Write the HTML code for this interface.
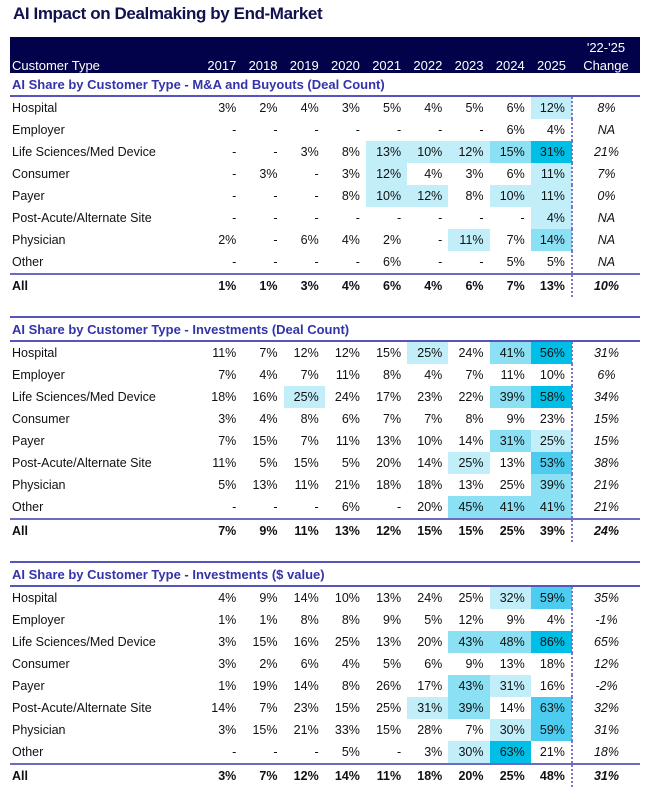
<!DOCTYPE html>
<html><head><meta charset="utf-8"><style>
body{margin:0;background:#fff;font-family:"Liberation Sans",sans-serif;}
#w{position:relative;width:649px;height:790px;}
h1{position:absolute;left:13px;top:4px;margin:0;font-size:17px;font-weight:bold;color:#12124f;letter-spacing:-0.4px}
table{position:absolute;left:10px;top:37px;border-collapse:collapse;font-size:12.5px;color:#111;table-layout:fixed;width:630px}
td{height:22px;padding:0 6px 0 0;text-align:right;white-space:nowrap}
td:first-child{text-align:left;padding-left:2px}
td.c{text-align:center;font-style:italic;padding:0;border-left:2px dotted #7777cc}
tr.hd td{background:#02024a;color:#fff;height:18px;vertical-align:bottom;font-size:13px}
tr.hd td.c{border-left:none}
tr.st td{color:#3333aa;font-weight:bold;font-size:13px;border-bottom:2px solid #5555bb;height:22px}
tr.st td.c{border-left:none}
tr.sp td{height:19px}
tr.sp td.c{border-left:none}
tr.top td{border-top:2px solid #5555bb}
tr.lb td{border-bottom:2px solid #6b6bc0}
tr.all td{font-weight:bold}
.l{background:#c2eef9}.m{background:#8be0f4}.n{background:#4ccdef}.d{background:#00bfe6}
</style></head><body><div id="w">
<h1>AI Impact on Dealmaking by End-Market</h1>
<table>
<colgroup><col style="width:191px"><col span="9" style="width:41.2px"><col style="width:68px"></colgroup>
<tr class="hd"><td style="height:16px"></td><td></td><td></td><td></td><td></td><td></td><td></td><td></td><td></td><td></td><td class="c" style="font-style:normal">'22-'25</td></tr>
<tr class="hd"><td>Customer Type</td><td>2017</td><td>2018</td><td>2019</td><td>2020</td><td>2021</td><td>2022</td><td>2023</td><td>2024</td><td>2025</td><td class="c" style="font-style:normal">Change</td></tr>
<tr class="st"><td colspan="10">AI Share by Customer Type - M&amp;A and Buyouts (Deal Count)</td><td class="c"></td></tr>
<tr><td>Hospital</td><td>3%</td><td>2%</td><td>4%</td><td>3%</td><td>5%</td><td>4%</td><td>5%</td><td>6%</td><td class="l">12%</td><td class="c">8%</td></tr>
<tr><td>Employer</td><td>-</td><td>-</td><td>-</td><td>-</td><td>-</td><td>-</td><td>-</td><td>6%</td><td>4%</td><td class="c">NA</td></tr>
<tr><td>Life Sciences/Med Device</td><td>-</td><td>-</td><td>3%</td><td>8%</td><td class="l">13%</td><td class="l">10%</td><td class="l">12%</td><td class="m">15%</td><td class="d">31%</td><td class="c">21%</td></tr>
<tr><td>Consumer</td><td>-</td><td>3%</td><td>-</td><td>3%</td><td class="l">12%</td><td>4%</td><td>3%</td><td>6%</td><td class="l">11%</td><td class="c">7%</td></tr>
<tr><td>Payer</td><td>-</td><td>-</td><td>-</td><td>8%</td><td class="l">10%</td><td class="l">12%</td><td>8%</td><td class="l">10%</td><td class="l">11%</td><td class="c">0%</td></tr>
<tr><td>Post-Acute/Alternate Site</td><td>-</td><td>-</td><td>-</td><td>-</td><td>-</td><td>-</td><td>-</td><td>-</td><td class="l">4%</td><td class="c">NA</td></tr>
<tr><td>Physician</td><td>2%</td><td>-</td><td>6%</td><td>4%</td><td>2%</td><td>-</td><td class="l">11%</td><td>7%</td><td class="m">14%</td><td class="c">NA</td></tr>
<tr class="lb"><td>Other</td><td>-</td><td>-</td><td>-</td><td>-</td><td>6%</td><td>-</td><td>-</td><td>5%</td><td>5%</td><td class="c">NA</td></tr>
<tr class="all"><td>All</td><td>1%</td><td>1%</td><td>3%</td><td>4%</td><td>6%</td><td>4%</td><td>6%</td><td>7%</td><td>13%</td><td class="c">10%</td></tr>
<tr class="sp"><td colspan="10"></td><td class="c"></td></tr>
<tr class="st top"><td colspan="10">AI Share by Customer Type - Investments (Deal Count)</td><td class="c"></td></tr>
<tr><td>Hospital</td><td>11%</td><td>7%</td><td>12%</td><td>12%</td><td>15%</td><td class="l">25%</td><td>24%</td><td class="m">41%</td><td class="d">56%</td><td class="c">31%</td></tr>
<tr><td>Employer</td><td>7%</td><td>4%</td><td>7%</td><td>11%</td><td>8%</td><td>4%</td><td>7%</td><td>11%</td><td>10%</td><td class="c">6%</td></tr>
<tr><td>Life Sciences/Med Device</td><td>18%</td><td>16%</td><td class="l">25%</td><td>24%</td><td>17%</td><td>23%</td><td>22%</td><td class="m">39%</td><td class="d">58%</td><td class="c">34%</td></tr>
<tr><td>Consumer</td><td>3%</td><td>4%</td><td>8%</td><td>6%</td><td>7%</td><td>7%</td><td>8%</td><td>9%</td><td>23%</td><td class="c">15%</td></tr>
<tr><td>Payer</td><td>7%</td><td>15%</td><td>7%</td><td>11%</td><td>13%</td><td>10%</td><td>14%</td><td class="m">31%</td><td class="l">25%</td><td class="c">15%</td></tr>
<tr><td>Post-Acute/Alternate Site</td><td>11%</td><td>5%</td><td>15%</td><td>5%</td><td>20%</td><td>14%</td><td class="l">25%</td><td>13%</td><td class="n">53%</td><td class="c">38%</td></tr>
<tr><td>Physician</td><td>5%</td><td>13%</td><td>11%</td><td>21%</td><td>18%</td><td>18%</td><td>13%</td><td>25%</td><td class="m">39%</td><td class="c">21%</td></tr>
<tr class="lb"><td>Other</td><td>-</td><td>-</td><td>-</td><td>6%</td><td>-</td><td>20%</td><td class="m">45%</td><td class="m">41%</td><td class="m">41%</td><td class="c">21%</td></tr>
<tr class="all"><td>All</td><td>7%</td><td>9%</td><td>11%</td><td>13%</td><td>12%</td><td>15%</td><td>15%</td><td>25%</td><td>39%</td><td class="c">24%</td></tr>
<tr class="sp"><td colspan="10"></td><td class="c"></td></tr>
<tr class="st top"><td colspan="10">AI Share by Customer Type - Investments ($ value)</td><td class="c"></td></tr>
<tr><td>Hospital</td><td>4%</td><td>9%</td><td>14%</td><td>10%</td><td>13%</td><td>24%</td><td>25%</td><td class="l">32%</td><td class="n">59%</td><td class="c">35%</td></tr>
<tr><td>Employer</td><td>1%</td><td>1%</td><td>8%</td><td>8%</td><td>9%</td><td>5%</td><td>12%</td><td>9%</td><td>4%</td><td class="c">-1%</td></tr>
<tr><td>Life Sciences/Med Device</td><td>3%</td><td>15%</td><td>16%</td><td>25%</td><td>13%</td><td>20%</td><td class="m">43%</td><td class="m">48%</td><td class="d">86%</td><td class="c">65%</td></tr>
<tr><td>Consumer</td><td>3%</td><td>2%</td><td>6%</td><td>4%</td><td>5%</td><td>6%</td><td>9%</td><td>13%</td><td>18%</td><td class="c">12%</td></tr>
<tr><td>Payer</td><td>1%</td><td>19%</td><td>14%</td><td>8%</td><td>26%</td><td>17%</td><td class="m">43%</td><td class="l">31%</td><td>16%</td><td class="c">-2%</td></tr>
<tr><td>Post-Acute/Alternate Site</td><td>14%</td><td>7%</td><td>23%</td><td>15%</td><td>25%</td><td class="l">31%</td><td class="m">39%</td><td>14%</td><td class="n">63%</td><td class="c">32%</td></tr>
<tr><td>Physician</td><td>3%</td><td>15%</td><td>21%</td><td>33%</td><td>15%</td><td>28%</td><td>7%</td><td class="l">30%</td><td class="n">59%</td><td class="c">31%</td></tr>
<tr class="lb"><td>Other</td><td>-</td><td>-</td><td>-</td><td>5%</td><td>-</td><td>3%</td><td class="l">30%</td><td class="d">63%</td><td>21%</td><td class="c">18%</td></tr>
<tr class="all"><td>All</td><td>3%</td><td>7%</td><td>12%</td><td>14%</td><td>11%</td><td>18%</td><td>20%</td><td>25%</td><td>48%</td><td class="c">31%</td></tr>
</table>
</div></body></html>
